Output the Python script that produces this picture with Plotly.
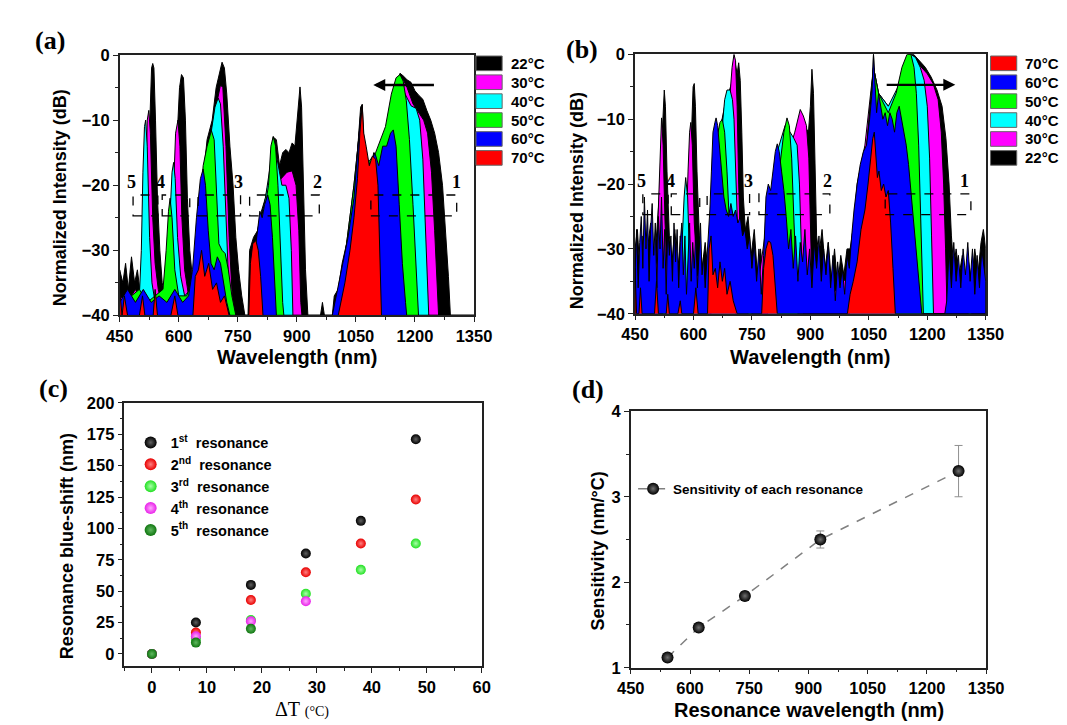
import plotly.graph_objects as go

# ---------------- data: (a) heating spectra, (wavelength nm, dB) ----------------
a_22 = [(450, -33), (458, -35), (465, -32), (472, -36), (480, -31), (488, -35), (495, -33), (503, -37),
        (510, -34), (516, -30), (522, -18), (527, -8), (531, -2), (534, -1.3), (537, -2), (541, -10),
        (546, -22), (552, -30), (558, -35), (565, -37), (572, -35), (578, -30), (584, -26), (590, -20),
        (596, -12), (602, -5), (607, -3), (612, -3.5), (617, -10), (622, -22), (628, -30), (636, -35),
        (642, -37), (650, -30), (660, -20), (672, -13), (685, -10), (695, -5), (704, -2.5), (710, -1.1),
        (716, -2), (722, -6), (730, -14), (738, -20), (745, -28), (752, -33), (760, -37), (768, -40),
        (776, -40), (780, -30), (790, -28), (800, -27), (810, -24), (820, -22), (830, -19), (840, -12.6),
        (848, -13), (856, -17), (864, -15), (872, -14.5), (880, -15), (888, -13.5), (895, -14), (900, -10),
        (905, -6), (908, -4.9), (912, -8), (917, -20), (922, -33), (928, -40), (960, -40), (965, -38),
        (970, -40), (990, -40), (995, -37), (1005, -36), (1015, -32), (1030, -28), (1045, -22), (1055, -14),
        (1062, -8), (1066, -7.6), (1070, -13), (1078, -16), (1086, -19), (1095, -15), (1105, -16),
        (1115, -14), (1125, -13), (1135, -11), (1145, -7), (1155, -4), (1162, -2.8), (1170, -3.2),
        (1180, -3.8), (1190, -4.2), (1200, -5.5), (1210, -6.2), (1220, -6.8), (1230, -8.5), (1240, -10),
        (1250, -12), (1260, -15), (1270, -20), (1278, -27), (1285, -34), (1290, -40), (1350, -40)]
a_30 = [(450, -37), (470, -38), (490, -36), (505, -38), (512, -30), (516, -20), (520, -10), (524, -8.5),
        (528, -12), (534, -25), (540, -32), (548, -36), (556, -38), (570, -38), (580, -32), (586, -22),
        (592, -12), (598, -10), (603, -14), (608, -25), (615, -33), (625, -37), (640, -38), (650, -34),
        (660, -25), (672, -16), (688, -11), (698, -7), (706, -4.6), (712, -5), (720, -14), (728, -28),
        (735, -36), (742, -40), (780, -40), (790, -32), (810, -26), (830, -22), (845, -17), (860, -19),
        (875, -18), (888, -17.8), (898, -20), (905, -27), (910, -38), (913, -40), (1000, -40), (1015, -34),
        (1035, -26), (1050, -18), (1064, -9), (1072, -16), (1090, -19), (1110, -15), (1130, -12),
        (1145, -8), (1160, -4), (1168, -3.5), (1180, -5), (1195, -7.5), (1210, -9), (1222, -10),
        (1232, -12), (1242, -18), (1250, -27), (1256, -35), (1260, -40), (1350, -40)]
a_40 = [(450, -38), (500, -37), (505, -30), (509, -18), (513, -11), (516, -10), (520, -14), (526, -28),
        (532, -35), (540, -38), (565, -38), (572, -32), (578, -24), (583, -18), (587, -16.5), (591, -19),
        (597, -28), (605, -34), (615, -37), (630, -36), (645, -33), (658, -24), (670, -16), (682, -12),
        (692, -8), (700, -6.6), (706, -7.5), (713, -14), (720, -25), (726, -34), (732, -40), (780, -40),
        (800, -28), (820, -22), (840, -14), (850, -16), (862, -20), (872, -20), (880, -22), (886, -30),
        (890, -40), (1000, -40), (1020, -32), (1045, -20), (1062, -10), (1075, -17), (1100, -16),
        (1125, -12), (1145, -6), (1160, -4), (1175, -6), (1190, -7.8), (1203, -8.2), (1212, -10),
        (1220, -16), (1227, -26), (1232, -35), (1235, -40), (1350, -40)]
a_50 = [(450, -38), (480, -37), (500, -36), (520, -38), (540, -37), (560, -36), (568, -30), (574, -24),
        (578, -22), (583, -25), (590, -33), (600, -37), (620, -37), (640, -34), (652, -25), (662, -17),
        (672, -14), (683, -11.6), (690, -13), (696, -20), (702, -29), (710, -30), (718, -30.5), (726, -33),
        (735, -37), (745, -40), (790, -40), (805, -28), (818, -24), (828, -20), (834, -14), (840, -12.5),
        (846, -14), (852, -20), (858, -30), (864, -38), (867, -40), (1000, -40), (1020, -32), (1045, -20),
        (1062, -10), (1075, -17), (1100, -15), (1125, -11), (1140, -6), (1152, -3.5), (1162, -3),
        (1170, -4), (1178, -7), (1186, -13), (1195, -23), (1203, -33), (1209, -40), (1350, -40)]
a_60 = [(450, -38), (470, -36), (490, -38), (510, -36), (530, -38), (550, -37), (570, -38), (590, -36),
        (610, -38), (625, -37), (635, -33), (645, -25), (655, -19), (662, -17.5), (668, -20), (675, -27),
        (682, -32), (690, -33), (698, -31), (706, -32), (714, -35), (722, -38), (730, -40), (780, -40),
        (790, -32), (798, -28), (806, -24), (812, -25), (818, -23), (826, -21.5), (832, -23), (838, -28),
        (844, -35), (848, -40), (990, -40), (1010, -34), (1030, -28), (1045, -22), (1055, -14), (1062, -9),
        (1070, -14), (1078, -16), (1088, -17), (1098, -15), (1108, -17), (1118, -14), (1128, -14),
        (1138, -12), (1145, -11.5), (1152, -14), (1160, -23), (1168, -32), (1176, -38), (1179, -40),
        (1350, -40)]
a_70 = [(450, -36), (456, -40), (462, -37), (470, -40), (500, -40), (508, -37), (514, -40), (535, -40),
        (540, -36), (546, -40), (580, -40), (590, -37), (598, -40), (636, -40), (642, -34), (650, -33),
        (658, -30), (666, -34), (676, -32), (686, -36), (696, -35), (706, -38), (716, -37), (728, -40),
        (778, -40), (782, -32), (788, -29), (796, -28.5), (802, -30), (808, -34), (814, -40), (1005, -40),
        (1012, -38), (1022, -35), (1035, -30), (1045, -25), (1054, -19), (1060, -12), (1066, -7.6),
        (1070, -12), (1076, -14), (1084, -17), (1092, -15.5), (1100, -16), (1106, -20), (1110, -28),
        (1115, -40), (1350, -40)]

# ---------------- data: (b) cooling spectra ----------------
b_22 = [(450, -30), (456, -27), (462, -33), (468, -28), (475, -35), (482, -30), (490, -26), (498, -32),
        (505, -28), (512, -22), (518, -14), (522, -7), (525, -5.5), (528, -8), (532, -18), (538, -28),
        (545, -32), (552, -27), (560, -33), (568, -28), (576, -34), (584, -27), (590, -20), (595, -12),
        (599, -5), (602, -4.5), (605, -8), (609, -18), (615, -28), (622, -33), (630, -29), (638, -34),
        (645, -26), (652, -14), (660, -12), (670, -11), (680, -8), (690, -6), (700, -4), (706, -1),
        (712, -3), (716, -1.3), (720, -4), (724, -12), (728, -22), (733, -27), (740, -25), (748, -31),
        (756, -27), (764, -34), (772, -30), (780, -35), (788, -28), (796, -24), (810, -18), (825, -17),
        (840, -14), (855, -14), (870, -11), (885, -11), (895, -12), (900, -8), (904, -2.3), (908, -6),
        (912, -20), (916, -28), (922, -31), (930, -27), (938, -33), (946, -29), (954, -35), (962, -30),
        (970, -36), (978, -31), (986, -34), (994, -30), (1002, -30), (1012, -26), (1025, -20), (1040, -16),
        (1055, -12), (1062, 0), (1068, -8), (1080, -9), (1095, -10), (1110, -10), (1125, -9), (1140, -5),
        (1152, 0), (1165, 0), (1180, -1), (1195, -2), (1210, -3.5), (1225, -5.5), (1238, -8), (1248, -13),
        (1256, -20), (1262, -28), (1268, -33), (1274, -30), (1282, -34), (1290, -31), (1298, -36),
        (1306, -32), (1314, -35), (1322, -30), (1330, -34), (1338, -29), (1344, -27), (1350, -30)]
b_30 = [(450, -36), (470, -34), (490, -36), (505, -32), (510, -22), (514, -14), (518, -9.8), (522, -14),
        (527, -26), (533, -34), (545, -36), (570, -36), (580, -30), (586, -18), (590, -12), (593, -10.5),
        (597, -14), (602, -26), (610, -34), (630, -36), (645, -30), (660, -18), (675, -14), (686, -9),
        (694, -6), (699, -2), (704, 0), (708, -1), (712, -8), (716, -20), (722, -32), (732, -38),
        (760, -38), (790, -25), (810, -18), (830, -15), (850, -14), (860, -12), (868, -10), (874, -8.5),
        (882, -9.5), (890, -11), (896, -16), (900, -28), (905, -38), (940, -38), (1000, -34), (1020, -20),
        (1040, -14), (1062, -2), (1075, -6), (1100, -8), (1125, -6), (1145, -2), (1155, 0), (1170, -1),
        (1185, -2), (1200, -3), (1215, -4.5), (1228, -7), (1236, -12), (1242, -20), (1247, -30),
        (1251, -40), (1350, -40)]
b_40 = [(450, -38), (500, -37), (540, -37), (560, -36), (570, -30), (576, -22), (580, -19), (585, -22),
        (590, -32), (598, -37), (640, -36), (650, -22), (660, -16), (668, -13), (674, -11), (680, -7),
        (686, -5.5), (694, -5.5), (700, -7), (704, -10), (710, -20), (716, -32), (722, -38), (780, -38),
        (795, -25), (815, -15), (835, -11), (848, -12), (858, -13), (866, -14), (872, -20), (878, -32),
        (882, -40), (1000, -40), (1020, -22), (1045, -14), (1062, -2), (1075, -6), (1100, -8), (1125, -5),
        (1145, -1), (1158, 0), (1170, -0.5), (1182, -2), (1192, -4), (1200, -8), (1206, -16), (1211, -28),
        (1216, -40), (1350, -40)]
b_50 = [(450, -40), (520, -40), (525, -32), (530, -40), (560, -40), (566, -28), (572, -40), (600, -40),
        (605, -33), (610, -40), (645, -40), (652, -22), (660, -13), (668, -10.5), (674, -10), (680, -12),
        (686, -18), (692, -26), (700, -34), (708, -40), (740, -40), (745, -33), (750, -40), (790, -40),
        (805, -28), (820, -18), (832, -12), (840, -9.8), (846, -11), (852, -16), (858, -26), (864, -36),
        (868, -40), (1000, -40), (1020, -22), (1045, -14), (1062, -2), (1075, -6), (1100, -9), (1120, -6),
        (1135, -2), (1148, 0), (1158, 0), (1166, -2), (1172, -6), (1178, -14), (1183, -24), (1187, -34),
        (1190, -40), (1305, -40), (1310, -35), (1314, -40), (1350, -40)]
b_60 = [(450, -34), (454, -27), (458, -36), (462, -29), (466, -25), (470, -33), (474, -22), (478, -30),
        (482, -24), (486, -35), (490, -27), (494, -23), (498, -31), (502, -26), (506, -36), (510, -25),
        (514, -30), (518, -22), (522, -33), (526, -27), (530, -37), (534, -26), (538, -31), (542, -28),
        (546, -35), (550, -26), (554, -32), (558, -27), (562, -36), (566, -29), (570, -26), (574, -34),
        (578, -28), (582, -37), (586, -30), (590, -26), (594, -35), (598, -29), (602, -33), (606, -27),
        (610, -36), (614, -30), (618, -26), (622, -34), (626, -31), (630, -36), (634, -32), (638, -28),
        (642, -24), (646, -18), (650, -12), (655, -10.5), (658, -9.8), (662, -11), (666, -14), (670, -17),
        (674, -20), (678, -22), (684, -24), (690, -25), (696, -23), (702, -25), (708, -24), (714, -26),
        (720, -25), (726, -28), (732, -27), (738, -30), (744, -28), (750, -33), (756, -29), (762, -35),
        (768, -30), (774, -37), (780, -31), (786, -22), (792, -20), (798, -21), (804, -18), (810, -15),
        (815, -13.8), (820, -15), (826, -18), (832, -21), (838, -25), (844, -30), (850, -27), (856, -33),
        (862, -28), (868, -35), (874, -29), (880, -32), (886, -27), (892, -34), (898, -30), (904, -36),
        (910, -29), (916, -33), (922, -28), (928, -35), (934, -30), (940, -34), (946, -29), (952, -36),
        (958, -31), (964, -38), (970, -32), (976, -36), (982, -33), (988, -37), (994, -31), (1000, -33),
        (1006, -28), (1012, -24), (1020, -20), (1028, -17), (1036, -15), (1044, -14), (1052, -10),
        (1058, -6), (1062, 0), (1066, -5), (1070, -9), (1075, -6), (1080, -8), (1086, -10), (1092, -9),
        (1098, -11), (1104, -9), (1110, -10), (1116, -12), (1122, -9), (1128, -8), (1134, -10),
        (1140, -12), (1146, -14), (1152, -17), (1158, -21), (1164, -26), (1170, -30), (1176, -33),
        (1182, -37), (1186, -40), (1245, -40), (1250, -38), (1256, -30), (1262, -36), (1268, -29),
        (1274, -35), (1280, -31), (1286, -36), (1292, -30), (1298, -34), (1304, -29), (1310, -35),
        (1316, -30), (1322, -37), (1328, -31), (1334, -36), (1340, -30), (1346, -33), (1350, -35)]
b_70 = [(450, -33), (454, -40), (460, -40), (464, -36), (468, -40), (500, -40), (505, -35), (510, -40),
        (530, -40), (534, -37), (538, -40), (560, -40), (566, -38), (570, -40), (600, -40), (606, -36),
        (612, -40), (636, -40), (640, -30), (645, -28), (650, -34), (656, -33), (662, -36), (668, -32),
        (674, -35), (680, -33), (686, -37), (694, -35), (702, -38), (712, -40), (775, -40), (780, -33),
        (786, -30), (792, -28.8), (798, -29), (804, -31), (810, -36), (815, -40), (995, -40), (1002, -37),
        (1010, -35), (1020, -32), (1030, -27), (1040, -24), (1048, -20), (1055, -16), (1060, -13),
        (1064, -12), (1068, -15), (1072, -19), (1076, -18), (1082, -21), (1088, -20), (1094, -22),
        (1100, -21), (1106, -26), (1112, -33), (1118, -40), (1350, -40)]

temps_a = ["22°C", "30°C", "40°C", "50°C", "60°C", "70°C"]
temps_b = ["70°C", "60°C", "50°C", "40°C", "30°C", "22°C"]
temp_colors = {"22°C": "#000000", "30°C": "#ff00ff", "40°C": "#00ffff",
               "50°C": "#00ff00", "60°C": "#0000ff", "70°C": "#ff0000"}
spectra_a = {"22°C": a_22, "30°C": a_30, "40°C": a_40, "50°C": a_50, "60°C": a_60, "70°C": a_70}
spectra_b = {"22°C": b_22, "30°C": b_30, "40°C": b_40, "50°C": b_50, "60°C": b_60, "70°C": b_70}

# ---------------- data: (c) blue-shift vs temperature change ----------------
delta_t = [0, 8, 18, 28, 38, 48]
shift_1st = [0, 25, 55, 80, 106, 171]
shift_2nd = [0, 17, 43, 65, 88, 123]
shift_3rd = [0, 12, 27, 48, 67, 88]
shift_4th = [0, 14, 26, 42]
shift_5th = [0, 9, 20]

# ---------------- data: (d) sensitivity ----------------
res_wavelength = [543, 622, 739, 930, 1280]
sensitivity = [1.12, 1.47, 1.84, 2.50, 3.30]
sensitivity_err = [0.02, 0.02, 0.05, 0.10, 0.30]

W, H = 1067, 725
SANS = "Liberation Sans, Arial, sans-serif"
SERIF = "Liberation Serif, Times New Roman, serif"


def px(x):
    return x / W


def py(y):
    return 1 - y / H


fig = go.Figure()

# spectra: back (22 °C) to front (70 °C)
for xa, ya, spectra in (("x", "y", spectra_a), ("x2", "y2", spectra_b)):
    for t in temps_a:
        pts = spectra[t]
        xs = [pts[0][0]] + [p[0] for p in pts] + [pts[-1][0]]
        ys = [-40] + [p[1] for p in pts] + [-40]
        fig.add_trace(go.Scatter(
            x=xs, y=ys, xaxis=xa, yaxis=ya, mode="lines", fill="toself",
            fillcolor=temp_colors[t], line=dict(color="black", width=1),
            showlegend=False, hoverinfo="skip"))

# (c) scatter
c_series = [
    ("1<sup>st</sup>  resonance", shift_1st, "#000000", "#606060"),
    ("2<sup>nd</sup>  resonance", shift_2nd, "#e80000", "#ff8080"),
    ("3<sup>rd</sup>  resonance", shift_3rd, "#22e022", "#a8ffa8"),
    ("4<sup>th</sup>  resonance", shift_4th, "#e820e8", "#ffa8ff"),
    ("5<sup>th</sup>  resonance", shift_5th, "#0f750f", "#60b860"),
]
for name, vals, col, hi in c_series:
    fig.add_trace(go.Scatter(
        x=delta_t[:len(vals)], y=vals, xaxis="x3", yaxis="y3", mode="markers", name=name,
        marker=dict(size=10, color=col, line=dict(width=0),
                    gradient=dict(type="radial", color=hi)),
        legend="legend"))

# (d) sensitivity
fig.add_trace(go.Scatter(
    x=res_wavelength, y=sensitivity, xaxis="x4", yaxis="y4", mode="lines+markers",
    name="Sensitivity of each resonance",
    line=dict(color="#808080", width=1.5, dash="dash"),
    marker=dict(size=12, color="#000000", line=dict(width=0),
                gradient=dict(type="radial", color="#707070")),
    error_y=dict(type="data", array=sensitivity_err, color="#909090", thickness=1, width=4),
    legend="legend2"))

# ---------------- axes ----------------
tickfont = dict(family=SANS, size=16.5, color="black", weight="bold")


def base_axis(domain, rng, dtick, minor_dtick, anchor, tick0):
    return dict(domain=domain, range=rng, dtick=dtick, tick0=tick0, anchor=anchor,
                showgrid=False, zeroline=False, showline=True, linecolor="#222",
                linewidth=1.5, mirror=True, ticks="outside", ticklen=5, tickwidth=1.3,
                tickcolor="#222", tickfont=tickfont,
                minor=dict(ticks="outside", dtick=minor_dtick, ticklen=3, tickwidth=1,
                           tickcolor="#222", showgrid=False))


def inner_axis(over, side, rng, dtick, minor_dtick, anchor, tick0):
    return dict(overlaying=over, side=side, range=rng, dtick=dtick, tick0=tick0,
                anchor=anchor, showgrid=False, zeroline=False, showline=False,
                showticklabels=False, ticks="inside", ticklen=5, tickwidth=1.3,
                tickcolor="#222",
                minor=dict(ticks="inside", dtick=minor_dtick, ticklen=3, tickwidth=1,
                           tickcolor="#222", showgrid=False))


panels = [
    # x domain, y domain, xrange, xdtick, xminor, x0, yrange, ydtick, yminor, y0
    ([px(100.7), px(466)], [py(306), py(39)], [450, 1350], 150, 75, 450, [-40, 0], 10, 5, 0),
    ([px(632), px(993.5)], [py(304.3), py(38.3)], [450, 1350], 150, 75, 450, [-40, 0], 10, 5, 0),
    ([px(105.6), px(474)], [py(666), py(395.7)], [-5, 60], 10, 5, 0, [-10, 200], 25, 12.5, 0),
    ([px(627.6), px(994)], [py(667.3), py(404.3)], [450, 1350], 150, 75, 450, [1, 4], 1, 0.5, 1),
]
layout_axes = {}
for i, (xd, yd, xr, xdt, xmn, x0, yr, ydt, ymn, y0) in enumerate(panels, start=1):
    sfx = "" if i == 1 else str(i)
    layout_axes["xaxis" + sfx] = base_axis(xd, xr, xdt, xmn, "y" + sfx, x0)
    layout_axes["yaxis" + sfx] = base_axis(yd, yr, ydt, ymn, "x" + sfx, y0)
    j = str(i + 4)
    layout_axes["xaxis" + j] = inner_axis("x" + sfx, "top", xr, xdt, xmn, "y" + sfx, x0)
    layout_axes["yaxis" + j] = inner_axis("y" + sfx, "right", yr, ydt, ymn, "x" + sfx, y0)

# ---------------- annotations ----------------
ann = []


def text(x, y, s, size, family=SANS, weight="bold", angle=0, xanchor="center"):
    ann.append(dict(x=px(x), y=py(y), xref="paper", yref="paper", text=s, showarrow=False,
                    textangle=angle, xanchor=xanchor, yanchor="middle",
                    font=dict(family=family, size=size, color="black", weight=weight)))


# panel labels
text(29, 24, "(a)", 26, SERIF)
text(577, 33, "(b)", 26, SERIF)
text(32, 381, "(c)", 26, SERIF)
text(583, 382, "(d)", 26, SERIF)
# axis titles
text(40, 185, "Normalized Intensity (dB)", 18, angle=-90)
text(284, 349, "Wavelength (nm)", 20)
text(573, 188, "Normalized Intensity (dB)", 18, angle=-90)
text(812, 349, "Wavelength (nm)", 20)
text(46, 543, "Resonance blue-shift (nm)", 18, angle=-90)
text(289, 710, "ΔT <span style='font-size:14px'>(°C)</span>", 20, SERIF, weight="normal")
text(594, 548, "Sensitivity (nm/°C)", 18, angle=-90)
text(811, 711, "Resonance wavelength (nm)", 20)

# resonance boxes and numbers in (a) and (b)
shapes = []
boxes_a = [(484, 547), (558, 628), (649, 757), (780, 957), (1088, 1306)]
labels_a = [(481, "5"), (553, "4"), (753, "3"), (952, "2"), (1306, "1")]
boxes_b = [(470, 535), (543, 616), (635, 744), (768, 950), (1092, 1312)]
labels_b = [(467, "5"), (540, "4"), (742, "3"), (944, "2"), (1295, "1")]
for xa, ya, boxes, labels in (("x", "y", boxes_a, labels_a), ("x2", "y2", boxes_b, labels_b)):
    for x0, x1 in boxes:
        shapes.append(dict(type="rect", xref=xa, yref=ya, x0=x0, x1=x1, y0=-24.7, y1=-21.5,
                           line=dict(color="black", width=1.3, dash="dash")))
    for lx, s in labels:
        ann.append(dict(x=lx, y=-19.5, xref=xa, yref=ya, text=s, showarrow=False,
                        font=dict(family=SERIF, size=18, color="black", weight="bold")))

# shift arrows
ann.append(dict(x=1094, y=-4.6, ax=1252, ay=-4.6, xref="x", yref="y", axref="x", ayref="y",
                text="", showarrow=True, arrowhead=2, arrowsize=1, arrowwidth=2.4,
                arrowcolor="black"))
ann.append(dict(x=1272, y=-4.7, ax=1092, ay=-4.7, xref="x2", yref="y2", axref="x2", ayref="y2",
                text="", showarrow=True, arrowhead=2, arrowsize=1, arrowwidth=2.4,
                arrowcolor="black"))

# temperature keys for (a) and (b)
for x_sw, x_txt, order in ((468, 502, temps_a), (998.5, 1032, temps_b)):
    for k, t in enumerate(order):
        top = 40 + k * 19.4
        shapes.append(dict(type="rect", xref="paper", yref="paper",
                           x0=px(x_sw), x1=px(x_sw + 27), y0=py(top + 15), y1=py(top),
                           fillcolor=temp_colors[t], line=dict(color="#666", width=1)))
        text(x_txt, top + 7.5, t, 15, xanchor="left")

fig.update_layout(
    width=W, height=H, margin=dict(l=0, r=0, t=0, b=0),
    paper_bgcolor="white", plot_bgcolor="white",
    font=dict(family=SANS, color="black"),
    annotations=ann, shapes=shapes,
    legend=dict(x=px(112), y=py(420), xanchor="left", yanchor="top", bgcolor="rgba(0,0,0,0)",
                font=dict(family=SANS, size=14.5, color="black", weight="bold"),
                tracegroupgap=0, itemsizing="constant"),
    legend2=dict(x=px(630), y=py(468), xanchor="left", yanchor="top", bgcolor="rgba(0,0,0,0)",
                 font=dict(family=SANS, size=13.5, color="black", weight="bold")),
    **layout_axes,
)

fig.write_html("out.html")
